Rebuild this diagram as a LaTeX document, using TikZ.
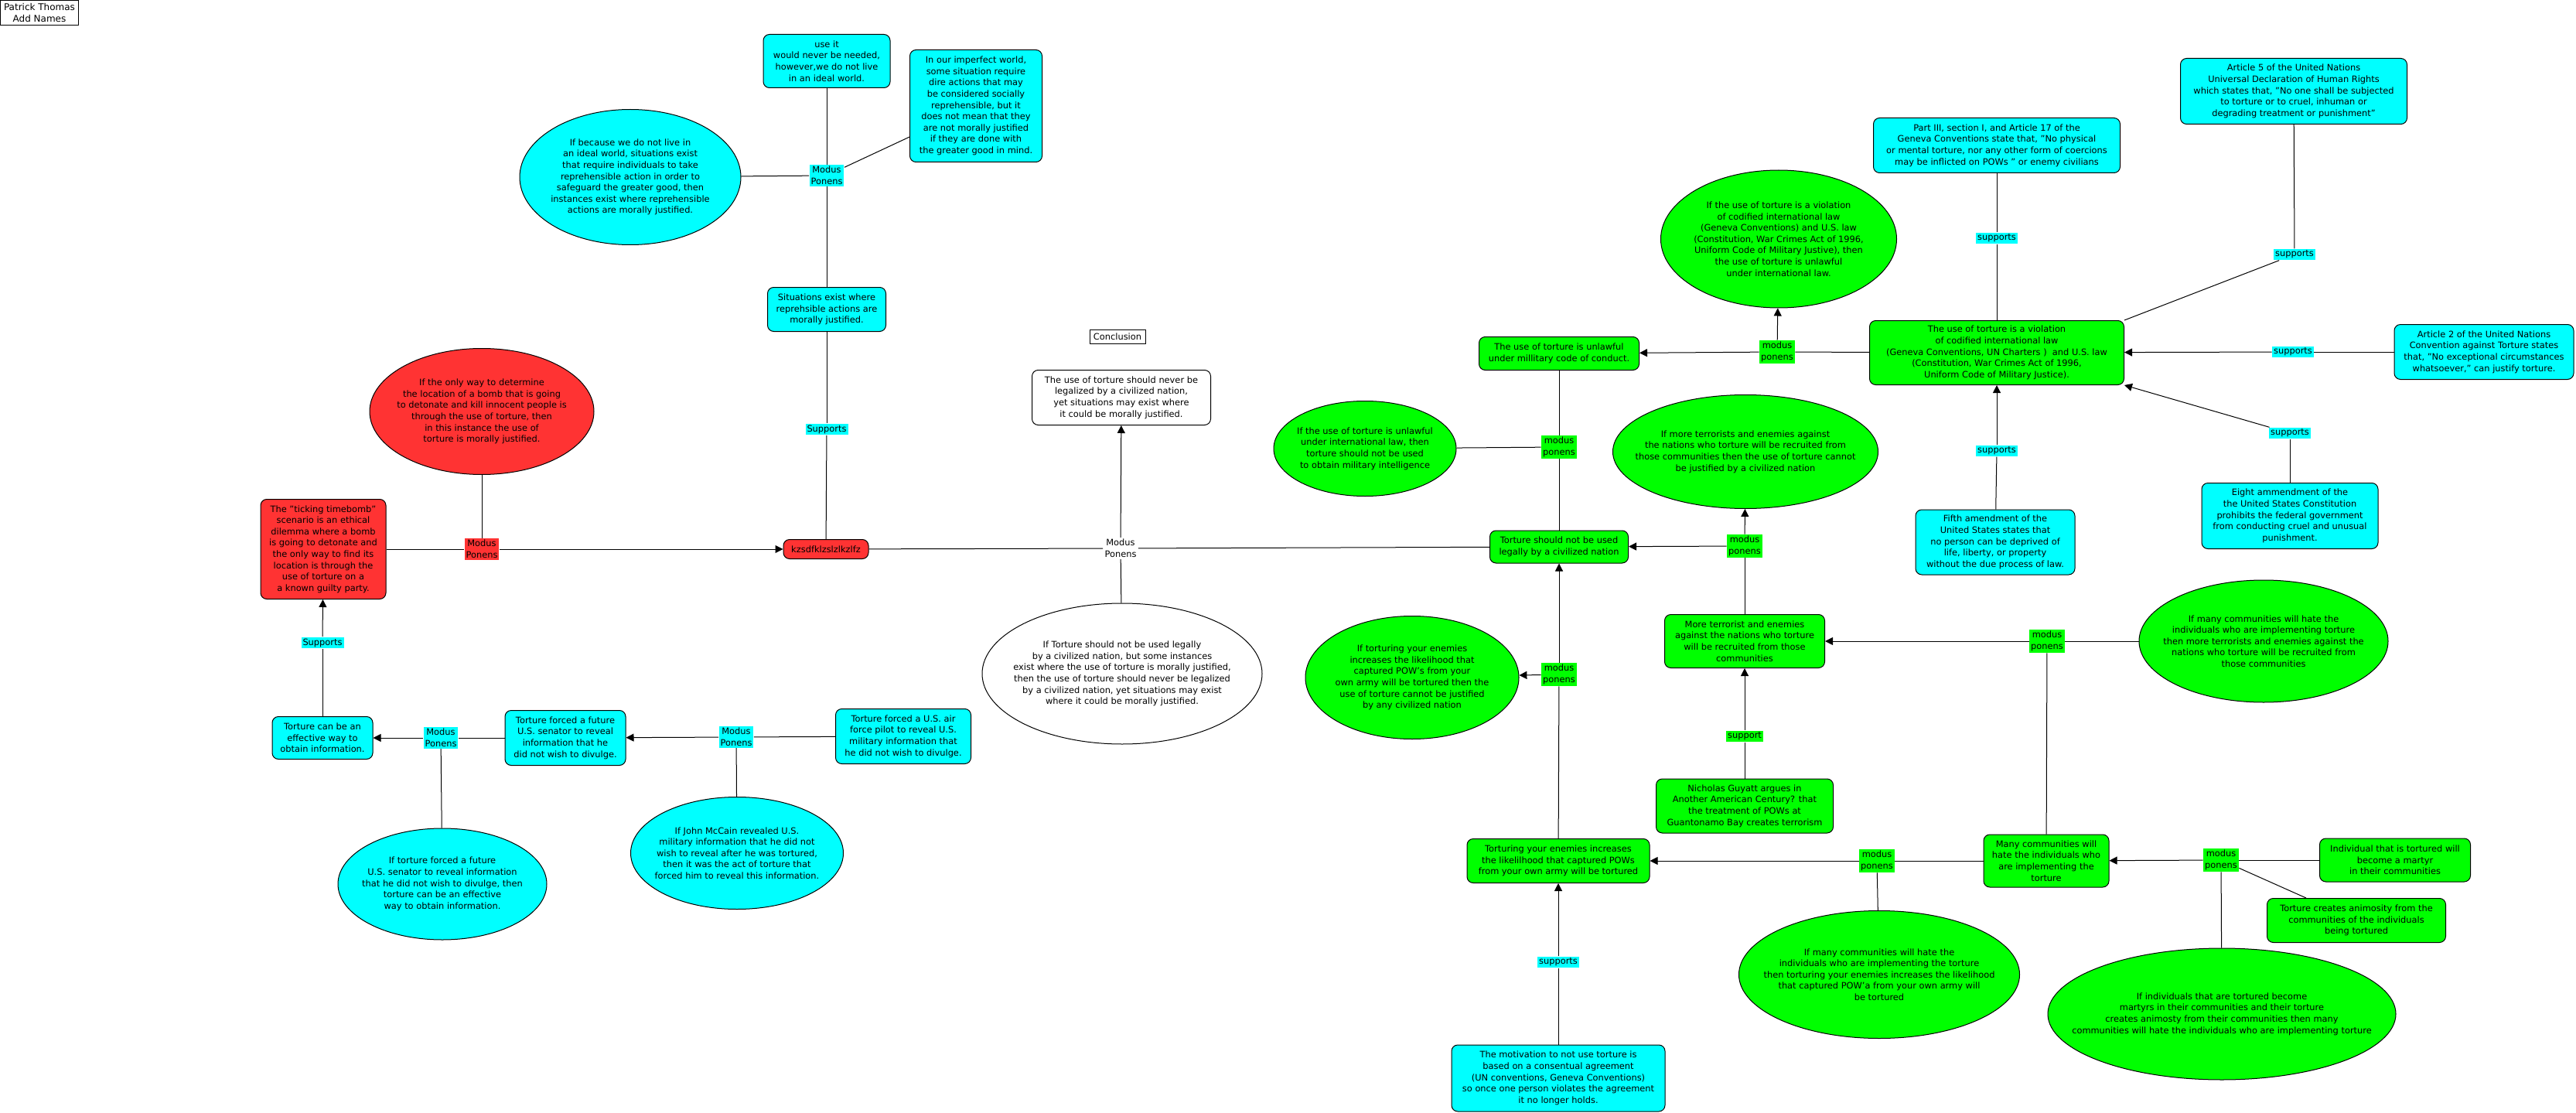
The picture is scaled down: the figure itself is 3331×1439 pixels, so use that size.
\documentclass[tikz,border=0pt]{standalone}
\usepackage{fontspec}
\setmainfont{DejaVu Sans}
\usetikzlibrary{arrows.meta, shapes.geometric}
\definecolor{aquafill}{HTML}{00FFFF}
\definecolor{limefill}{HTML}{00FF00}
\definecolor{tomatofill}{HTML}{FF3333}
\tikzset{
  box/.style={rectangle, draw, rounded corners=4pt, align=center, inner xsep=1.5pt, inner ysep=2pt},
  cbox/.style={box, fill=aquafill},
  gbox/.style={box, fill=limefill},
  rbox/.style={box, fill=tomatofill},
  wbox/.style={box, fill=white},
  oval/.style={ellipse, draw, inner sep=0pt},
  coval/.style={oval, fill=aquafill},
  goval/.style={oval, fill=limefill},
  roval/.style={oval, fill=tomatofill},
  woval/.style={oval, fill=white},
  txt/.style={align=center},
  tag/.style={align=center, inner sep=1pt},
  ctag/.style={tag, fill=aquafill},
  gtag/.style={tag, fill=limefill},
  rtag/.style={tag, fill=tomatofill},
  wtag/.style={tag, fill=white},
  sz/.style 2 args={minimum width=#1*0.5pt, minimum height=#2*0.5pt},
  line/.style={-{Triangle[length=5pt, width=5pt]}}
}
\begin{document}
\begin{tikzpicture}[x=0.5pt, y=-0.5pt, line width=0.5pt, font=\fontsize{5.7pt}{7.3pt}\selectfont]
  \fill[white] (0,0) rectangle (3331,1439);
  \useasboundingbox (0,0) rectangle (3331,1439);

  \node[draw, sz={101}{32}, inner sep=1pt, align=center, font=\fontsize{6pt}{7.5pt}\selectfont] (title) at (51,17) {Patrick Thomas\\Add Names};

  % ideal world argument
  \node[cbox, sz={164}{69}] (useit) at (1069,79) {use it\\would never be needed,\\however,we do not live\\in an ideal world.};
  \node[cbox, sz={171}{145}] (imperf) at (1262,137) {In our imperfect world,\\some situation require\\dire actions that may\\be considered socially\\reprehensible, but it\\does not mean that they\\are not morally justified\\if they are done with\\the greater good in mind.};
  \node[coval, sz={286}{175}, label={[txt]center:{If because we do not live in\\an ideal world, situations exist\\that require individuals to take\\reprehensible action in order to\\safeguard the greater good, then\\instances exist where reprehensible\\actions are morally justified.}}] (ifideal) at (815,229) {};
  \node[ctag] (mpideal) at (1069,227) {Modus\\Ponens};
  \node[cbox, sz={153}{57}] (situ) at (1069,400) {Situations exist where\\reprehsible actions are\\morally justified.};
  \node[ctag] (supsitu) at (1069,555) {Supports};

  % ticking bomb
  \node[rbox, sz={110}{25}] (kz) at (1068,710) {kzsdfklzslzlkzlfz};
  \node[roval, sz={290}{163}, label={[txt]center:{If the only way to determine\\the location of a bomb that is going\\to detonate and kill innocent people is\\through the use of torture, then\\in this instance the use of\\torture is morally justified.}}] (ifbomb) at (623,532) {};
  \node[rbox, sz={162}{129}] (bomb) at (418,710) {The "ticking timebomb"\\scenario is an ethical\\dilemma where a bomb\\is going to detonate and\\the only way to find its\\location is through the\\use of torture on a\\a known guilty party.};
  \node[rtag] (mpbomb) at (623,710) {Modus\\Ponens};

  % information
  \node[ctag] (supinfo) at (417,831) {Supports};
  \node[cbox, sz={130}{55}] (info) at (417,954) {Torture can be an\\effective way to\\obtain information.};
  \node[ctag] (mpsen) at (570,954) {Modus\\Ponens};
  \node[cbox, sz={156}{71}] (senator) at (731,954) {Torture forced a future\\U.S. senator to reveal\\information that he\\did not wish to divulge.};
  \node[ctag] (mppilot) at (952,953) {Modus\\Ponens};
  \node[cbox, sz={175}{71}] (pilot) at (1168,952) {Torture forced a U.S. air\\force pilot to reveal U.S.\\military information that\\he did not wish to divulge.};
  \node[coval, sz={270}{144}, label={[txt]center:{If torture forced a future\\U.S. senator to reveal information\\that he did not wish to divulge, then\\torture can be an effective\\way to obtain information.}}] (ifsen) at (572,1143) {};
  \node[coval, sz={275}{145}, label={[txt]center:{If John McCain revealed U.S.\\military information that he did not\\wish to reveal after he was tortured,\\then it was the act of torture that\\forced him to reveal this information.}}] (ifmccain) at (953,1103) {};

  % conclusion
  \node[draw, sz={72}{18}, inner sep=1pt] (concl) at (1445,435) {Conclusion};
  \node[wbox, sz={231}{71}] (concbox) at (1450,514) {The use of torture should never be\\legalized by a civilized nation,\\yet situations may exist where\\it could be morally justified.};
  \node[wtag] (mpconc) at (1449,709) {Modus\\Ponens};
  \node[woval, sz={362}{182}, label={[txt]center:{If Torture should not be used legally\\by a civilized nation, but some instances\\exist where the use of torture is morally justified,\\then the use of torture should never be legalized\\by a civilized nation, yet situations may exist\\where it could be morally justified.}}] (ifconc) at (1451,871) {};

  % law
  \node[gbox, sz={179}{42}] (legal) at (2016,707) {Torture should not be used\\legally by a civilized nation};
  \node[gbox, sz={207}{43}] (unmil) at (2016,457) {The use of torture is unlawful\\under millitary code of conduct.};
  \node[gtag] (mpunl) at (2016,578) {modus\\ponens};
  \node[goval, sz={236}{123}, label={[txt]center:{If the use of torture is unlawful\\under international law, then\\torture should not be used\\to obtain military intelligence}}] (ifunl) at (1765,580) {};
  \node[goval, sz={305}{178}, label={[txt]center:{If the use of torture is a violation\\of codified international law\\(Geneva Conventions) and U.S. law\\(Constitution, War Crimes Act of 1996,\\Uniform Code of Military Justive), then\\the use of torture is unlawful\\under international law.}}] (ifviol) at (2300,309) {};
  \node[gtag] (mpviol) at (2298,455) {modus\\ponens};
  \node[gbox, sz={329}{83}] (viol) at (2582,456) {The use of torture is a violation\\of codified international law\\(Geneva Conventions, UN Charters )~ and U.S. law\\(Constitution, War Crimes Act of 1996,\\Uniform Code of Military Justice).};
  \node[cbox, sz={319}{71}] (geneva) at (2582,188) {Part III, section I, and Article 17 of the\\Geneva Conventions state that, "No physical\\or mental torture, nor any other form of coercions\\may be inflicted on POWs " or enemy civilians};
  \node[ctag] (supgeneva) at (2582,308) {supports};
  \node[cbox, sz={293}{85}] (udhr) at (2966,118) {Article 5 of the United Nations\\Universal Declaration of Human Rights\\which states that, "No one shall be subjected\\to torture or to cruel, inhuman or\\degrading treatment or punishment"};
  \node[ctag] (supudhr) at (2967,329) {supports};
  \node[cbox, sz={232}{71}] (uncat) at (3212,455) {Article 2 of the United Nations\\Convention against Torture states\\that, "No exceptional circumstances\\whatsoever," can justify torture.};
  \node[ctag] (supuncat) at (2965,455) {supports};
  \node[cbox, sz={228}{85}] (eighth) at (2961,667) {Eight ammendment of the\\the United States Constitution\\prohibits the federal government\\from conducting cruel and unusual\\punishment.};
  \node[ctag] (supeighth) at (2961,560) {supports};
  \node[cbox, sz={206}{84}] (fifth) at (2580,701) {Fifth amendment of the\\United States states that\\no person can be deprived of\\life, liberty, or property\\without the due process of law.};
  \node[ctag] (supfifth) at (2582,583) {supports};

  % terrorism
  \node[goval, sz={343}{147}, label={[txt]center:{If more terrorists and enemies against\\the nations who torture will be recruited from\\those communities then the use of torture cannot\\be justified by a civilized nation}}] (ifmore) at (2257,584) {};
  \node[gtag] (mpterr) at (2256,706) {modus\\ponens};
  \node[gbox, sz={207}{69}] (terr) at (2256,829) {More terrorist and enemies\\against the nations who torture\\will be recruited from those\\communities};
  \node[gtag] (supguy) at (2256,952) {support};
  \node[gbox, sz={229}{70}] (guyatt) at (2256,1042) {Nicholas Guyatt argues in\\Another American Century? that\\the treatment of POWs at\\Guantonamo Bay creates terrorism};

  % prisoners of war
  \node[goval, sz={276}{159}, label={[txt]center:{If torturing your enemies\\increases the likelihood that\\captured POW's from your\\own army will be tortured then the\\use of torture cannot be justified\\by any civilized nation}}] (iftort) at (1826,876) {};
  \node[gtag] (mppow) at (2016,872) {modus\\ponens};
  \node[gbox, sz={236}{57}] (pow) at (2015,1113) {Torturing your enemies increases\\the likelilhood that captured POWs\\from your own army will be tortured};
  \node[ctag] (supmotiv) at (2015,1244) {supports};
  \node[cbox, sz={276}{86}] (motiv) at (2015,1394) {The motivation to not use torture is\\based on a consentual agreement\\(UN conventions, Geneva Conventions)\\so once one person violates the agreement\\it no longer holds.};
  \node[gtag] (mpmany) at (2427,1113) {modus\\ponens};
  \node[goval, sz={363}{165}, label={[txt]center:{If many communities will hate the\\individuals who are implementing the torture\\then torturing your enemies increases the likelihood\\that captured POW'a from your own army will\\be tortured}}] (ifmany) at (2430,1260) {};

  % communities
  \node[gbox, sz={162}{68}] (many) at (2646,1113) {Many communities will\\hate the individuals who\\are implementing the\\torture};
  \node[gtag] (mphate) at (2647,829) {modus\\ponens};
  \node[goval, sz={322}{158}, label={[txt]center:{If many communities will hate the\\individuals who are implementing torture\\then more terrorists and enemies against the\\nations who torture will be recruited from\\those communities}}] (ifhate) at (2927,829) {};
  \node[gtag] (mpmartyr) at (2872,1112) {modus\\ponens};
  \node[gbox, sz={195}{56}] (martyr) at (3097,1112) {Individual that is tortured will\\become a martyr\\in their communities};
  \node[gbox, sz={231}{57}] (anim) at (3047,1190) {Torture creates animosity from the\\communities of the individuals\\being tortured};
  \node[goval, sz={450}{170}, label={[txt]center:{If individuals that are tortured become\\martyrs in their communities and their torture\\creates animosty from their communities then many\\communities will hate the individuals who are implementing torture}}] (ifmartyr) at (2873,1311) {};

  % connectors
  \draw (useit) -- (mpideal);
  \draw (mpideal) -- (situ);
  \draw (ifideal) -- (mpideal);
  \draw (imperf) -- (mpideal);
  \draw (situ) -- (supsitu);
  \draw (supsitu) -- (kz);
  \draw (bomb) -- (mpbomb);
  \draw[line] (mpbomb) -- (kz);
  \draw (ifbomb) -- (mpbomb);
  \draw (info) -- (supinfo);
  \draw[line] (supinfo) -- (bomb);
  \draw (senator) -- (mpsen);
  \draw[line] (mpsen) -- (info);
  \draw (ifsen) -- (mpsen);
  \draw (pilot) -- (mppilot);
  \draw[line] (mppilot) -- (senator);
  \draw (ifmccain) -- (mppilot);
  \draw (kz) -- (mpconc);
  \draw (mpconc) -- (legal);
  \draw[line] (mpconc) -- (concbox);
  \draw (ifconc) -- (mpconc);
  \draw (unmil) -- (mpunl);
  \draw (mpunl) -- (legal);
  \draw (ifunl) -- (mpunl);
  \draw (viol) -- (mpviol);
  \draw[line] (mpviol) -- (unmil);
  \draw[line] (mpviol) -- (ifviol);
  \draw (geneva) -- (supgeneva);
  \draw (supgeneva) -- (viol);
  \draw (udhr) -- (supudhr);
  \draw (supudhr) -- (viol.north east);
  \draw (uncat) -- (supuncat);
  \draw[line] (supuncat) -- (viol);
  \draw (eighth) -- (supeighth);
  \draw[line] (supeighth) -- (viol.south east);
  \draw (fifth) -- (supfifth);
  \draw[line] (supfifth) -- (viol);
  \draw (terr) -- (mpterr);
  \draw[line] (mpterr) -- (legal);
  \draw[line] (mpterr) -- (ifmore);
  \draw (guyatt) -- (supguy);
  \draw[line] (supguy) -- (terr);
  \draw (pow) -- (mppow);
  \draw[line] (mppow) -- (legal);
  \draw[line] (mppow) -- (iftort);
  \draw (motiv) -- (supmotiv);
  \draw[line] (supmotiv) -- (pow);
  \draw (many) -- (mpmany);
  \draw[line] (mpmany) -- (pow);
  \draw (ifmany) -- (mpmany);
  \draw (many) -- (mphate);
  \draw[line] (mphate) -- (terr);
  \draw (ifhate) -- (mphate);
  \draw (martyr) -- (mpmartyr);
  \draw[line] (mpmartyr) -- (many);
  \draw (anim) -- (mpmartyr);
  \draw (ifmartyr) -- (mpmartyr);
\end{tikzpicture}
\end{document}
